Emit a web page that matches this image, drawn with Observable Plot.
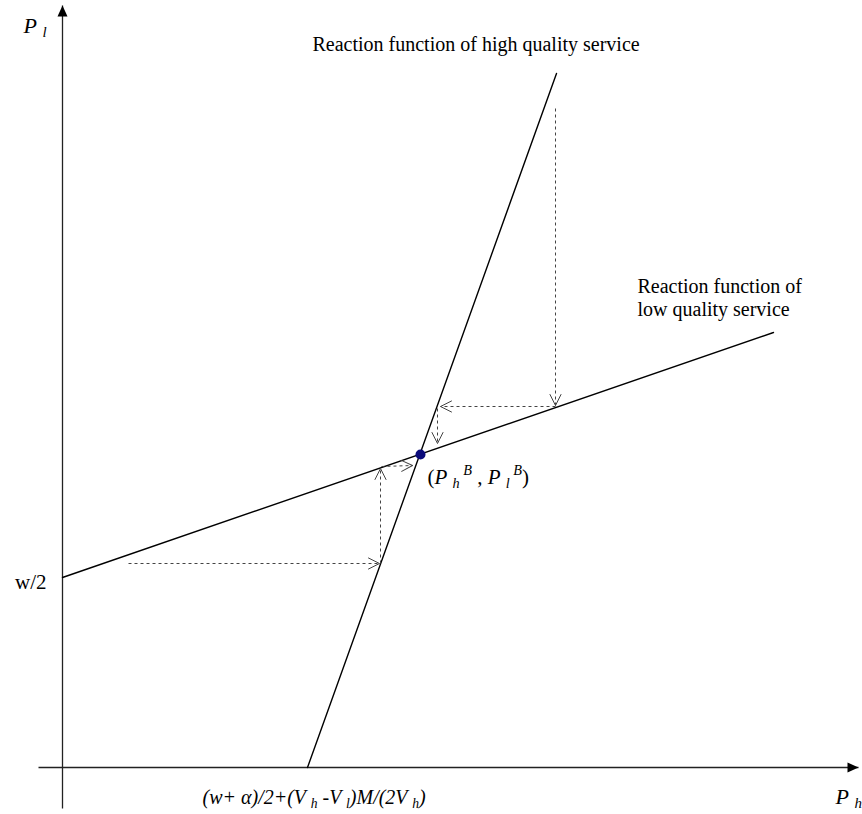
<!DOCTYPE html>
<html><head><meta charset="utf-8">
<script src="https://cdn.jsdelivr.net/npm/d3@7"></script>
<script src="https://cdn.jsdelivr.net/npm/@observablehq/plot@0.6"></script>
<style>body{margin:0;background:#fff}</style>
</head><body><div id="chart"></div>
<script>
// Axis extents (abstract units, origin at the axes crossing)
const xAxisX = [-2.4, 79.6];
const yAxisY = [-4.1, 76.2];
// Reaction function of low quality service (intercept w/2)
const lowX = [0, 71.1];
const lowY = [19.0, 43.5];
// Reaction function of high quality service
const highX = [24.5, 49.4];
const highY = [0, 69.4];
// Equilibrium point
const eqX = [35.8];
const eqY = [31.3];
// Dashed adjustment arrows (start -> end)
const arrowX1 = [6.6, 31.8, 31.9, 49.3, 49.3, 37.5];
const arrowY1 = [20.4, 20.4, 30.1, 65.9, 36.1, 35.9];
const arrowX2 = [31.7, 31.8, 35.0, 49.3, 37.8, 37.5];
const arrowY2 = [20.4, 29.9, 30.2, 36.2, 36.1, 32.4];
// Labels
const curveLabels = ["Reaction function of high quality service", "Reaction function of", "low quality service"];
const curveLabelX = [25.0, 57.5, 57.5];
const curveLabelY = [71.7, 47.5, 45.2];
const axisLabels = ["*P* _{l}", "*P* _{h}"];
const axisLabelX = [-3.9, 77.3];
const axisLabelY = [73.5, -3.6];
const interceptLabels = ["w/2"];
const interceptLabelX = [-1.6];
const interceptLabelY = [17.9];
const formulaLabels = ["(w+ α)/2+(V _{h} -V _{l})M/(2V _{h})"];
const formulaLabelX = [14.0];
const formulaLabelY = [-3.6];
const eqLabels = ["(*P* _{h}^{ B} , *P* _{l}^{ B})"];
const eqLabelX = [36.5];
const eqLabelY = [28.4];

const vHead = {draw(ctx) { ctx.moveTo(-5.5, 11); ctx.lineTo(0, 0); ctx.lineTo(5.5, 11); }};
const triHead = {draw(ctx) { ctx.moveTo(-5, 11); ctx.lineTo(0, 0); ctx.lineTo(5, 11); ctx.closePath(); }};

const font = "'Liberation Serif', 'Times New Roman', serif";

const svg = Plot.plot({
  width: 862,
  height: 814,
  x: {domain: [-6.2, 80.0], range: [0, 862], axis: null},
  y: {domain: [-4.7, 76.7], range: [814, 0], axis: null},
  style: {fontFamily: font, background: "white", color: "black"},
  marks: [
    // axes
    Plot.link([0, 1], {x1: [xAxisX[0], 0], y1: [0, yAxisY[0]], x2: [xAxisX[1], 0], y2: [0, yAxisY[1]], stroke: "#222", strokeWidth: 1.3}),
    Plot.vector([0, 1], {x: [xAxisX[1], 0], y: [0, yAxisY[1]], rotate: [90, 0], length: 1, anchor: "start", shape: triHead, fill: "black", stroke: "none"}),
    // reaction functions
    Plot.line(d3.zip(lowX, lowY), {x: d => d[0], y: d => d[1], stroke: "black", strokeWidth: 1.4}),
    Plot.line(d3.zip(highX, highY), {x: d => d[0], y: d => d[1], stroke: "black", strokeWidth: 1.4}),
    // dashed adjustment arrows
    Plot.link(arrowX1, {x1: arrowX1, y1: arrowY1, x2: arrowX2, y2: arrowY2, stroke: "#444", strokeWidth: 1, strokeDasharray: "3,3"}),
    Plot.vector(arrowX2, {x: arrowX2, y: arrowY2, rotate: arrowX2.map((x, i) => Math.atan2(x - arrowX1[i], arrowY2[i] - arrowY1[i]) * 180 / Math.PI), length: 1, anchor: "start", shape: vHead, stroke: "#444", strokeWidth: 1}),
    // equilibrium
    Plot.dot(eqX, {x: eqX, y: eqY, r: 5, fill: "#0a0a7a", stroke: "none"}),
    // texts
    Plot.text(curveLabels, {x: curveLabelX, y: curveLabelY, text: curveLabels, textAnchor: "start", lineAnchor: "bottom", fontSize: 20, fontFamily: font}),
    Plot.text(axisLabels, {x: axisLabelX, y: axisLabelY, text: axisLabels, textAnchor: "start", lineAnchor: "bottom", fontSize: 22, fontFamily: font}),
    Plot.text(interceptLabels, {x: interceptLabelX, y: interceptLabelY, text: interceptLabels, textAnchor: "end", lineAnchor: "bottom", fontSize: 21, fontFamily: font}),
    Plot.text(formulaLabels, {x: formulaLabelX, y: formulaLabelY, text: formulaLabels, textAnchor: "start", lineAnchor: "bottom", fontSize: 20, fontStyle: "italic", fontFamily: font}),
    Plot.text(eqLabels, {x: eqLabelX, y: eqLabelY, text: eqLabels, textAnchor: "start", lineAnchor: "bottom", fontSize: 21, fontFamily: font})
  ]
});

function richify(root) {
  const ns = "http://www.w3.org/2000/svg";
  root.querySelectorAll("text").forEach(t => {
    const s = t.textContent;
    if (!/[_^*]/.test(s)) return;
    const tokens = s.match(/_\{[^}]*\}|\^\{[^}]*\}|\*[^*]*\*|[^_^*]+/g);
    while (t.firstChild) t.removeChild(t.firstChild);
    t.setAttribute("xml:space", "preserve");
    t.style.whiteSpace = "pre";
    let shift = 0;
    for (const tok of tokens) {
      const ts = document.createElementNS(ns, "tspan");
      let text, scale = 1, target = 0, italic = false;
      if (tok[0] === "_") { text = tok.slice(2, -1); scale = 0.68; target = 0.22; italic = true; }
      else if (tok[0] === "^") { text = tok.slice(2, -1); scale = 0.68; target = -0.42; italic = true; }
      else if (tok[0] === "*") { text = tok.slice(1, -1); italic = true; }
      else text = tok;
      if (scale !== 1) ts.setAttribute("font-size", (scale * 100) + "%");
      if (italic) ts.setAttribute("font-style", "italic");
      const d = target - shift;
      if (d) ts.setAttribute("dy", (d / scale).toFixed(3) + "em");
      shift = target;
      ts.textContent = text;
      t.appendChild(ts);
    }
  });
}
richify(svg);
document.getElementById("chart").appendChild(svg);
</script>
</body></html>
